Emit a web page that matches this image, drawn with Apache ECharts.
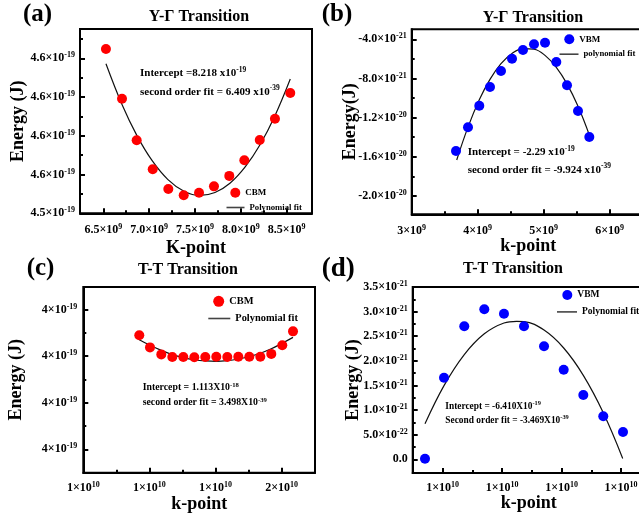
<!DOCTYPE html>
<html><head><meta charset="utf-8">
<script src="https://cdn.jsdelivr.net/npm/echarts@6/dist/echarts.min.js"></script>
<style>html,body{margin:0;padding:0;background:#fff}#c{width:639px;height:514px}</style>
</head><body><div id="c"></div>
<script>
// ---------- data ----------
// (a) Y-Γ CBM : k in 1e9, E in 1e-19 J
const kA = [6.529, 6.704, 6.864, 7.039, 7.209, 7.377, 7.544, 7.707, 7.874, 8.038, 8.206, 8.372, 8.539];
const eA = [4.6248, 4.5991, 4.5777, 4.5627, 4.5525, 4.5493, 4.5506, 4.5539, 4.5593, 4.5674, 4.5778, 4.5888, 4.6021];
const fitKA = [6.529, 6.704, 6.867, 7.031, 7.205, 7.380, 7.554, 7.718, 7.881, 8.045, 8.209, 8.372, 8.539];
const fitEA = [4.6172, 4.5962, 4.5801, 4.5673, 4.5574, 4.5514, 4.5492, 4.5507, 4.5555, 4.5638, 4.5754, 4.5904, 4.6093];
// (b) Y-Γ VBM : k in 1e9, E in 1e-21 J
const kB = [3.671, 3.853, 4.024, 4.186, 4.353, 4.520, 4.686, 4.853, 5.020, 5.191, 5.353, 5.520, 5.691];
const eB = [-15.41, -12.99, -10.78, -8.87, -7.24, -5.98, -5.09, -4.51, -4.35, -6.32, -8.70, -11.32, -13.98];
const fitKB = [3.682, 3.853, 4.024, 4.186, 4.353, 4.520, 4.686, 4.853, 5.020, 5.191, 5.353, 5.520, 5.691];
const fitEB = [-16.32, -12.97, -10.18, -8.09, -6.49, -5.45, -4.96, -5.02, -5.64, -6.86, -8.55, -10.84, -13.76];
// (c) T-T CBM : k in 1e10, E in 1e-19 J
const kC = [1.1694, 1.2018, 1.2360, 1.2693, 1.3026, 1.3359, 1.3691, 1.4024, 1.4357, 1.4690, 1.5023, 1.5356, 1.5688, 1.6021, 1.6345];
const eC = [4.0090, 4.0038, 4.0008, 3.9997, 3.9997, 3.9996, 3.9997, 3.9998, 3.9997, 3.9998, 3.9998, 3.9998, 4.0010, 4.0047, 4.0107];
const fitKC = [1.1694, 1.2018, 1.2360, 1.2693, 1.3026, 1.3359, 1.3691, 1.4024, 1.4357, 1.4690, 1.5023, 1.5356, 1.5688, 1.6021, 1.6345];
const fitEC = [4.0071, 4.0047, 4.0025, 4.0007, 3.9994, 3.9985, 3.9980, 3.9978, 3.9981, 3.9988, 3.9999, 4.0013, 4.0032, 4.0056, 4.0081];
// (d) T-T VBM : k in 1e10, E in 1e-21 J
const kD = [1.0702, 1.1022, 1.1363, 1.1700, 1.2031, 1.2368, 1.2705, 1.3036, 1.3366, 1.3702, 1.4034];
const eD = [0.012, 1.658, 2.702, 3.047, 2.958, 2.702, 2.296, 1.820, 1.306, 0.874, 0.555];
const fitKD = [1.0702, 1.1022, 1.1363, 1.1700, 1.2031, 1.2245, 1.2368, 1.2705, 1.3036, 1.3366, 1.3702, 1.4029];
const fitED = [0.721, 1.497, 2.127, 2.549, 2.769, 2.803, 2.797, 2.625, 2.261, 1.706, 0.947, 0.018];

// ---------- ticks & labels ----------
const xTicksA = [6.5, 7.0, 7.5, 8.0, 8.5];
const xLabelsA = ['6.5×10^9', '7.0×10^9', '7.5×10^9', '8.0×10^9', '8.5×10^9'];
const xMinorA = [6.75, 7.25, 7.75, 8.25];
const yTicksA = [4.54, 4.56, 4.58, 4.60, 4.62];
const yLabelsA = ['4.5×10^-19', '4.6×10^-19', '4.6×10^-19', '4.6×10^-19', '4.6×10^-19'];
const yMinorA = [4.55, 4.57, 4.59, 4.61, 4.63];

const xTicksB = [3, 4, 5, 6];
const xLabelsB = ['3×10^9', '4×10^9', '5×10^9', '6×10^9'];
const xMinorB = [3.5, 4.5, 5.5];
const yTicksB = [-20, -16, -12, -8, -4];
const yLabelsB = ['-2.0×10^-20', '-1.6×10^-20', '-1.2×10^-20', '-8.0×10^-21', '-4.0×10^-21'];
const yMinorB = [-18, -14, -10, -6];

const xTicksC = [1.0, 1.2, 1.4, 1.6];
const xLabelsC = ['1×10^10', '1×10^10', '1×10^10', '2×10^10'];
const xMinorC = [1.1, 1.3, 1.5];
const yTicksC = [3.96, 3.98, 4.00, 4.02];
const yLabelsC = ['4×10^-19', '4×10^-19', '4×10^-19', '4×10^-19'];
const yMinorC = [3.97, 3.99, 4.01];

const xTicksD = [1.1, 1.2, 1.3, 1.4];
const xLabelsD = ['1×10^10', '1×10^10', '1×10^10', '1×10^10'];
const xMinorD = [1.15, 1.25, 1.35];
const yTicksD = [0, 0.5, 1.0, 1.5, 2.0, 2.5, 3.0, 3.5];
const yLabelsD = ['0.0', '5.0×10^-22', '1.0×10^-21', '1.5×10^-21', '2.0×10^-21', '2.5×10^-21', '3.0×10^-21', '3.5×10^-21'];
const yMinorD = [0.25, 0.75, 1.25, 1.75, 2.25, 2.75, 3.25];

// ---------- helpers ----------
const F = "'Liberation Serif','Times New Roman',serif";
function sup(s) { const i = s.indexOf('^'); return i < 0 ? s : s.slice(0, i) + '{s|' + s.slice(i + 1) + '}'; }
function pairs(xs, ys) { return xs.map((x, i) => [x, ys[i]]); }
function labelFor(ticks, labels) {
  return function (v) {
    let best = 0, d = Infinity;
    ticks.forEach((t, i) => { const dd = Math.abs(t - v); if (dd < d) { d = dd; best = i; } });
    return sup(labels[best]);
  };
}
const axisRich = { s: { fontSize: 8, lineHeight: 7, verticalAlign: 'top', fontFamily: F, fontWeight: 'bold', color: '#000' } };

function majorAxis(grid, min, max, ticks, labels, name, nameGap, margin, extra) {
  return Object.assign({
    type: 'value', gridIndex: grid, min: min, max: max,
    name: name, nameLocation: 'middle', nameGap: nameGap, nameMoveOverlap: false,
    nameTextStyle: { fontFamily: F, fontWeight: 'bold', fontSize: 18, color: '#000' },
    axisLine: { show: true, onZero: false, lineStyle: { color: '#000', width: 2 } },
    axisTick: { show: true, inside: true, length: 5, customValues: ticks, lineStyle: { color: '#000', width: 2 } },
    axisLabel: { show: true, customValues: ticks, formatter: labelFor(ticks, labels), margin: margin,
      fontFamily: F, fontWeight: 'bold', fontSize: 12, lineHeight: 14, color: '#000', rich: axisRich, hideOverlap: false },
    splitLine: { show: false }, minorTick: { show: false }
  }, extra || {});
}
function minorAxis(grid, min, max, ticks, pos) {
  return {
    type: 'value', gridIndex: grid, min: min, max: max, position: pos,
    axisLine: { show: false, onZero: false },
    axisTick: { show: true, inside: true, length: 3, customValues: ticks, lineStyle: { color: '#000', width: 2 } },
    axisLabel: { show: false }, splitLine: { show: false }
  };
}
function grid(left, top, width, height) {
  return { left: left, top: top, width: width, height: height, show: true, borderColor: '#000', borderWidth: 2,
    containLabel: false, outerBoundsMode: 'none' };
}
function leg(name, icon, left, top, w, h, fs) {
  return { data: [{ name: name, icon: icon }], left: left, top: top, itemWidth: w, itemHeight: h, padding: 0, itemGap: 0, selectedMode: false,
    textStyle: { fontFamily: F, fontWeight: 'bold', fontSize: fs, color: '#000', lineHeight: 10 } };
}
function txt(x, y, text, fs, align, supScale) {
  const ss = supScale || 0.62;
  return { type: 'text', x: x, y: y, z: 100,
    style: { text: sup2(text), fontFamily: F, fontWeight: 'bold', fontSize: fs, fill: '#000', lineHeight: fs + 3,
      align: align || 'left', verticalAlign: 'middle',
      rich: { s: { fontSize: fs * ss, lineHeight: Math.round(fs * 0.55), verticalAlign: 'top', fontFamily: F, fontWeight: 'bold', fill: '#000' } } } };
}
function sup2(s) { return s.replace(/\^(\S+)/g, '{s|$1}'); }
function scat(name, color, xi, xs, ys) {
  return { type: 'scatter', name: name, xAxisIndex: xi, yAxisIndex: xi, data: pairs(xs, ys), symbol: 'circle', symbolSize: 10,
    itemStyle: { color: color, opacity: 1 }, z: 3 };
}
function fit(name, xi, xs, ys) {
  return { type: 'line', name: name, xAxisIndex: xi, yAxisIndex: xi, data: pairs(xs, ys), symbol: 'none', showSymbol: false, smooth: 0.4,
    lineStyle: { color: '#111', width: 1.2 }, itemStyle: { color: '#444' }, z: 2 };
}

const option = {
  animation: false,
  backgroundColor: '#fff',
  grid: [grid(80, 29, 232, 184.3), grid(411.7, 29.3, 233.3, 185), grid(83.3, 287, 231.7, 185.7), grid(412.7, 287, 232.3, 186)],
  xAxis: [
    majorAxis(0, 6.2459, 8.7759, xTicksA, xLabelsA, 'K-point', 26, 10, { position: 'bottom' }),
    majorAxis(1, 3.0, 6.5348, xTicksB, xLabelsB, 'k-point', 23, 10, { position: 'bottom' }),
    majorAxis(2, 1.0, 1.70106, xTicksC, xLabelsC, 'k-point', 23, 8, { position: 'bottom' }),
    majorAxis(3, 1.04952, 1.4404, xTicksD, xLabelsD, 'k-point', 21, 8, { position: 'bottom' }),
    minorAxis(0, 6.2459, 8.7759, xMinorA, 'bottom'),
    minorAxis(1, 3.0, 6.5348, xMinorB, 'bottom'),
    minorAxis(2, 1.0, 1.70106, xMinorC, 'bottom'),
    minorAxis(3, 1.04952, 1.4404, xMinorD, 'bottom')
  ],
  yAxis: [
    majorAxis(0, 4.54, 4.63512, yTicksA, yLabelsA, 'Energy (J)', 53, 5, { position: 'left' }),
    majorAxis(1, -21.87, -2.98, yTicksB, yLabelsB, 'Energy(J)', 52, 5, { position: 'left' }),
    majorAxis(2, 3.94994, 4.02976, yTicksC, yLabelsC, 'Energy (J)', 58, 6, { position: 'left' }),
    majorAxis(3, -0.2783, 3.5, yTicksD, yLabelsD, 'Energy (J)', 50, 5, { position: 'left' }),
    minorAxis(0, 4.54, 4.63512, yMinorA, 'left'),
    minorAxis(1, -21.87, -2.98, yMinorB, 'left'),
    minorAxis(2, 3.94994, 4.02976, yMinorC, 'left'),
    minorAxis(3, -0.2783, 3.5, yMinorD, 'left')
  ],
  legend: [
    leg('CBM', 'circle', 230.3, 187.7, 10, 10, 9),
    leg('Polynomial fit', 'rect', 226.5, 202.5, 18, 1.6, 8.7),
    leg('VBM', 'circle', 564.3, 34.3, 10, 10, 9),
    leg('polynomial fit', 'rect', 559.5, 49.2, 19, 1.6, 8.7),
    leg('CBM ', 'circle', 213.2, 295.8, 11, 11, 10.4),
    leg('Polynomial fit ', 'rect', 208.3, 313.5, 22, 1.6, 10.4),
    leg('VBM ', 'circle', 562.3, 290, 10, 10, 9.5),
    leg('Polynomial fit  ', 'rect', 557, 306.9, 20, 1.6, 9.5)
  ],
  series: [
    scat('CBM', '#ff0000', 0, kA, eA), fit('Polynomial fit', 0, fitKA, fitEA),
    scat('VBM', '#0000ff', 1, kB, eB), fit('polynomial fit', 1, fitKB, fitEB),
    scat('CBM ', '#ff0000', 2, kC, eC), fit('Polynomial fit ', 2, fitKC, fitEC),
    scat('VBM ', '#0000ff', 3, kD, eD), fit('Polynomial fit  ', 3, fitKD, fitED)
  ],
  graphic: [
    txt(23, 15, '(a)', 25), txt(321.7, 15, '(b)', 25), txt(26.7, 268.7, '(c)', 25), txt(321.7, 268.7, '(d)', 27),
    txt(199, 16.7, 'Y-Γ Transition', 16, 'center'), txt(533, 18.3, 'Y-Γ Transition', 16, 'center'),
    txt(188, 270, 'T-T Transition', 16, 'center'), txt(513, 268.7, 'T-T Transition', 16, 'center'),
    txt(140, 73.3, 'Intercept =8.218 x10^-19', 11, 'left', 0.68), txt(140, 91.7, 'second order fit = 6.409 x10^-39', 11, 'left', 0.68),
    txt(467.7, 152.3, 'Intercept = -2.29 x10^-19', 11, 'left', 0.68), txt(467.7, 170, 'second order fit = -9.924 x10^-39', 11, 'left', 0.68),
    txt(142.7, 387.7, 'Intercept = 1.113X10^-18', 9.8, 'left', 0.68), txt(142.7, 402.7, 'second order fit = 3.498X10^-39', 9.8, 'left', 0.68),
    txt(445.3, 407, 'Intercept = -6.410X10^-19', 9.4, 'left', 0.68), txt(445.3, 420.3, 'Second order fit = -3.469X10^-39', 9.4, 'left', 0.68)
  ]
};
const chart = echarts.init(document.getElementById('c'), null, { renderer: 'canvas' });
chart.setOption(option);
</script></body></html>
